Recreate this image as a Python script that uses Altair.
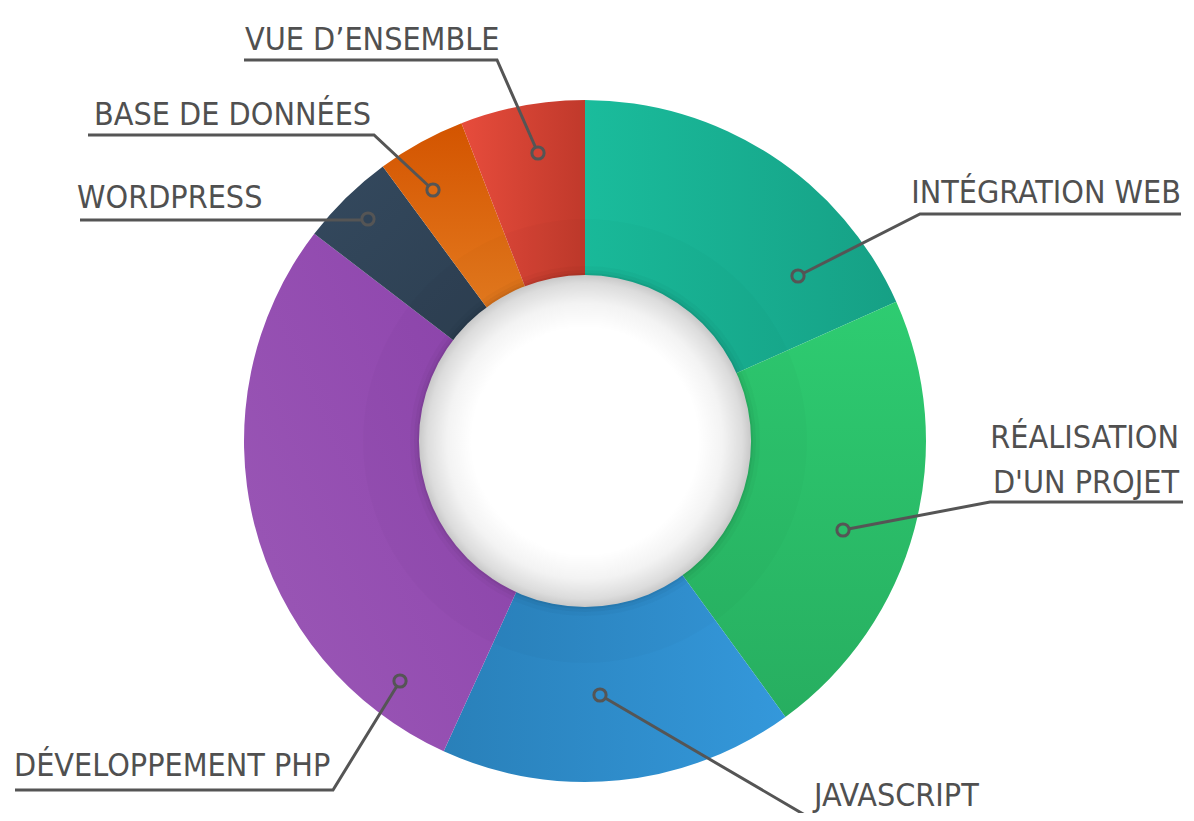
import math
import altair as alt
import pandas as pd

# ---------------- data ----------------
categories = ["INTÉGRATION WEB", "RÉALISATION D'UN PROJET", "JAVASCRIPT",
              "DÉVELOPPEMENT PHP", "WORDPRESS", "BASE DE DONNÉES", "VUE D’ENSEMBLE"]
shares = [18.3, 21.7, 16.8, 28.6, 4.5, 4.2, 5.9]
light_colors = ["#1abc9c", "#2ecc71", "#3498db", "#9b59b6", "#34495e", "#e67e22", "#e74c3c"]
dark_colors = ["#16a085", "#27ae60", "#2980b9", "#8e44ad", "#2c3e50", "#d35400", "#c0392b"]
mid_colors = ["#18a98d", "#2bbd68", "#2f8ccb", "#9450b1", "#304357", "#dd6a12", "#d44234"]

# ---------------- layout (reference pixel coordinates) ----------------
W, H = 1178, 805
CX, CY = 585, 441
R_OUT, R_IN = 341, 166
# gradient direction for each slice: light -> dark (bounding box units)
grad_dir = [(0, 0, 1, 0), (0, 0, 0, 1), (1, 0, 0, 0), (0, 1, 1, 0.2),
            (0, 0, 1, 1), (0, 1, 0, 0), (0, 0, 1, 0)]

label_text = ["INTÉGRATION WEB", "RÉALISATION\nD'UN PROJET", "JAVASCRIPT",
              "DÉVELOPPEMENT PHP", "WORDPRESS", "BASE DE DONNÉES", "VUE D’ENSEMBLE"]
label_x = [1181, 1179, 814, 14, 77, 94, 245]
label_y = [203, 448, 806, 776, 208, 125, 50]
label_align = ["right", "right", "left", "left", "left", "left", "left"]

marker_x = [798, 843, 600, 400, 368, 433, 538]
marker_y = [276, 530, 695, 681, 219, 190, 153]

leader_pts = [
    [(1181, 214), (920, 214), (798, 276)],
    [(1183, 502), (990, 502), (843, 530)],
    [(996, 818), (810, 818), (600, 695)],
    [(15, 790), (333, 790), (400, 681)],
    [(80, 220), (368, 220)],
    [(88, 135), (374, 135), (433, 190)],
    [(244, 60), (497, 60), (538, 153)],
]

FONT = "Liberation Sans Narrow, DejaVu Sans Condensed, Roboto, sans-serif"

xs = alt.Scale(domain=[8, 8 + W], nice=False, zero=False)
ys = alt.Scale(domain=[8, 8 + H], nice=False, zero=False, reverse=True)
total = sum(shares)
ts = alt.Scale(domain=[0, total], range=[0, 2 * math.pi])

slices = pd.DataFrame({"cat": categories, "share": shares, "idx": list(range(len(categories)))})

cx = alt.XDatum(CX, scale=xs, axis=None)
cy = alt.YDatum(CY, scale=ys, axis=None)

layers = []
for i, c in enumerate(categories):
    x1, y1, x2, y2 = grad_dir[i]
    grad = alt.LinearGradient(
        gradient="linear",
        stops=[alt.GradientStop(color=light_colors[i], offset=0),
               alt.GradientStop(color=dark_colors[i], offset=1)],
        x1=x1, y1=y1, x2=x2, y2=y2,
    )
    layers.append(
        alt.Chart(slices)
        .transform_window(end="sum(share)", sort=[alt.SortField("idx")], frame=[None, 0])
        .transform_calculate(start="datum.end - datum.share")
        .transform_filter(alt.datum.cat == c)
        .mark_arc(radius=R_OUT, radius2=140, fill=grad)
        .encode(theta=alt.Theta("start:Q", scale=ts), theta2="end:Q", x=cx, y=cy)
    )

one = pd.DataFrame({"k": [0]})

# subtle inner band
layers.append(
    alt.Chart(one).mark_arc(radius=222, radius2=R_IN, theta=0, theta2=2 * math.pi,
                            fill="#000000", fillOpacity=0.015)
    .encode(x=cx, y=cy)
)
# soft shadow around the white hole
for r, op in [(175, 0.025), (171, 0.035), (168, 0.05)]:
    layers.append(
        alt.Chart(one).mark_arc(radius=r, radius2=R_IN - 2, theta=0, theta2=2 * math.pi,
                                fill="#000000", fillOpacity=op)
        .encode(x=cx, y=cy)
    )
# white hole with inner shading
hole_grad = alt.RadialGradient(
    gradient="radial",
    stops=[alt.GradientStop(color="#ffffff", offset=0),
           alt.GradientStop(color="#ffffff", offset=0.68),
           alt.GradientStop(color="#f3f3f3", offset=0.83),
           alt.GradientStop(color="#dcdcdc", offset=0.95),
           alt.GradientStop(color="#c8c8c8", offset=1)],
    x1=0.5, y1=0.5, r1=0, x2=0.5, y2=0.5, r2=0.5,
)
layers.append(
    alt.Chart(one).mark_arc(radius=R_IN, radius2=0, theta=0, theta2=2 * math.pi, fill=hole_grad)
    .encode(x=cx, y=cy)
)

# leader lines
rows = []
for i, pts in enumerate(leader_pts):
    for j, (px, py) in enumerate(pts):
        rows.append({"cat": categories[i], "ord": j, "px": px, "py": py})
leaders = pd.DataFrame(rows)
layers.append(
    alt.Chart(leaders).mark_line(stroke="#555555", strokeWidth=3, strokeJoin="miter")
    .encode(x=alt.X("px:Q", scale=xs, axis=None), y=alt.Y("py:Q", scale=ys, axis=None),
            detail="cat:N", order="ord:Q")
)

# markers
markers = pd.DataFrame({"cat": categories, "px": marker_x, "py": marker_y})
layers.append(
    alt.Chart(markers).mark_point(shape="circle", size=150, filled=True, stroke="#555555",
                                  strokeWidth=3, opacity=1)
    .encode(x=alt.X("px:Q", scale=xs, axis=None), y=alt.Y("py:Q", scale=ys, axis=None),
            fill=alt.Fill("cat:N", scale=alt.Scale(domain=categories, range=mid_colors), legend=None))
)

# labels
labels = pd.DataFrame({"txt": label_text, "px": label_x, "py": label_y, "al": label_align})
for al in ["left", "right"]:
    layers.append(
        alt.Chart(labels).transform_filter(alt.datum.al == al)
        .mark_text(align=al, baseline="alphabetic", font=FONT, fontSize=32, color="#505050",
                   lineBreak="\n", lineHeight=45)
        .encode(x=alt.X("px:Q", scale=xs, axis=None), y=alt.Y("py:Q", scale=ys, axis=None),
                text="txt:N")
    )

chart = (
    alt.layer(*layers)
    .properties(width=W, height=H, autosize=alt.AutoSizeParams(type="none"), padding=0,
                background="#ffffff")
    .configure_view(stroke=None)
)

chart.save("out.html", embed_options={"renderer": "svg", "actions": False})
